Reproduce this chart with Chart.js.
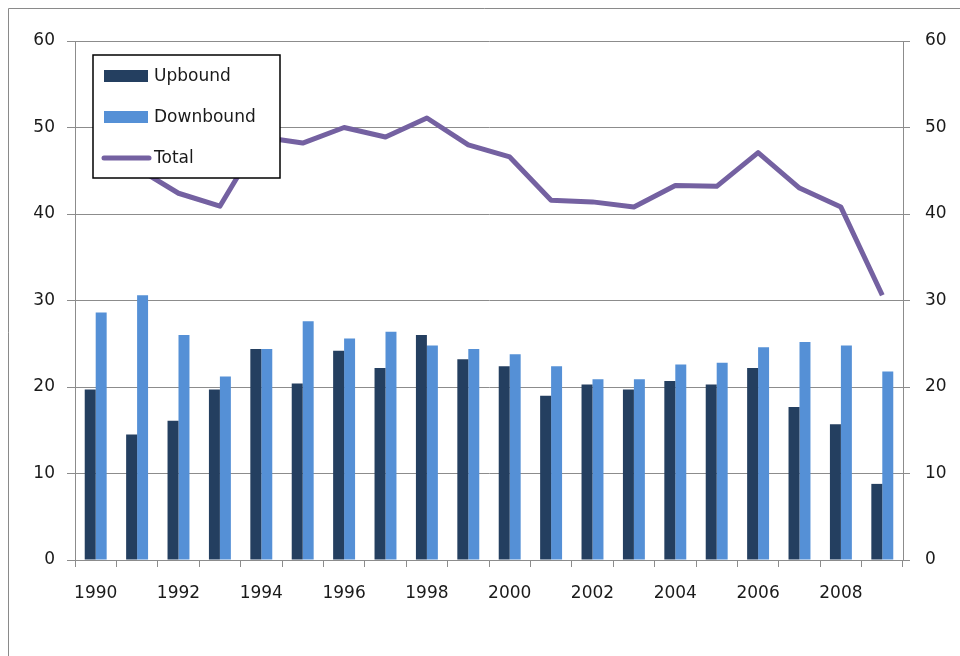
<!DOCTYPE html>
<html lang="en">
<head>
  <meta charset="UTF-8">
  <title>Upbound / Downbound / Total</title>
  <script src="https://cdn.jsdelivr.net/npm/chart.js@4.4.1/dist/chart.umd.min.js"></script>
  <style>
    html, body { margin: 0; padding: 0; background: #fff; }
    #wrap { width: 960px; height: 656px; position: relative; }
  </style>
</head>
<body>
  <div id="wrap">
    <canvas id="chart" width="960" height="656"></canvas>
  </div>

  <script>
    // data
    const years = ['1990', '1991', '1992', '1993', '1994', '1995', '1996', '1997', '1998', '1999',
                   '2000', '2001', '2002', '2003', '2004', '2005', '2006', '2007', '2008', '2009'];
    const upbound   = [19.7, 14.5, 16.1, 19.7, 24.4, 20.4, 24.2, 22.2, 26.0, 23.2,
                       22.4, 19.0, 20.3, 19.7, 20.7, 20.3, 22.2, 17.7, 15.7, 8.8];
    const downbound = [28.6, 30.6, 26.0, 21.2, 24.4, 27.6, 25.6, 26.4, 24.8, 24.4,
                       23.8, 22.4, 20.9, 20.9, 22.6, 22.8, 24.6, 25.2, 24.8, 21.8];
    const total     = [48.3, 45.3, 42.4, 40.9, 48.9, 48.2, 50.0, 48.9, 51.1, 48.0,
                       46.6, 41.6, 41.4, 40.8, 43.3, 43.2, 47.1, 43.0, 40.8, 30.6];
    const yTicks = [0, 10, 20, 30, 40, 50, 60];

    const FONT = 'DejaVu Sans, Verdana, sans-serif';
    const GRID = '#8c8c8c';

    // grey frame on the top and left edges
    const framePlugin = {
      id: 'frame',
      beforeDraw(chart) {
        const ctx = chart.ctx;
        ctx.save();
        ctx.fillStyle = '#fff';
        ctx.fillRect(0, 0, chart.width, chart.height);
        ctx.strokeStyle = '#8a8a8a';
        ctx.lineWidth = 1;
        ctx.beginPath();
        ctx.moveTo(8.5, chart.height);
        ctx.lineTo(8.5, 8.5);
        ctx.lineTo(chart.width, 8.5);
        ctx.stroke();
        ctx.restore();
      }
    };

    // boxed legend drawn inside the plot, on top of the line
    const boxLegend = {
      id: 'boxLegend',
      afterDatasetsDraw(chart) {
        const ctx = chart.ctx;
        const area = chart.chartArea;
        const x = area.left + 18, y = area.top + 14;
        const w = 187, h = 123;
        ctx.save();
        ctx.fillStyle = '#fff';
        ctx.fillRect(x, y, w, h);
        ctx.strokeStyle = '#000';
        ctx.lineWidth = 1.5;
        ctx.strokeRect(x, y, w, h);

        ctx.font = '17px ' + FONT;
        ctx.textBaseline = 'middle';
        ctx.textAlign = 'left';
        chart.data.datasets.forEach((ds, i) => {
          const cy = y + 21 + i * 41;
          if (ds.type === 'line') {
            ctx.strokeStyle = ds.borderColor;
            ctx.lineWidth = 5;
            ctx.lineCap = 'round';
            ctx.beginPath();
            ctx.moveTo(x + 11, cy);
            ctx.lineTo(x + 56, cy);
            ctx.stroke();
          } else {
            ctx.fillStyle = ds.backgroundColor;
            ctx.fillRect(x + 11, cy - 6, 44, 12);
          }
          ctx.fillStyle = '#1a1a1a';
          ctx.fillText(ds.label, x + 61, cy + 1);
        });
        ctx.restore();
      }
    };

    const ctx = document.getElementById('chart').getContext('2d');
    new Chart(ctx, {
      data: {
        labels: years,
        datasets: [
          {
            type: 'bar',
            label: 'Upbound',
            data: upbound,
            backgroundColor: '#243f60',
            yAxisID: 'y',
            order: 2,
            barPercentage: 1.0,
            categoryPercentage: 0.53
          },
          {
            type: 'bar',
            label: 'Downbound',
            data: downbound,
            backgroundColor: '#5590d6',
            yAxisID: 'y',
            order: 2,
            barPercentage: 1.0,
            categoryPercentage: 0.53
          },
          {
            type: 'line',
            label: 'Total',
            data: total,
            borderColor: '#7461a1',
            backgroundColor: '#7461a1',
            borderWidth: 5,
            pointRadius: 0,
            tension: 0,
            borderJoinStyle: 'round',
            yAxisID: 'y2',
            order: 0
          }
        ]
      },
      options: {
        responsive: false,
        animation: false,
        events: [],
        layout: { padding: { top: 41, left: 0, right: 0, bottom: 0 } },
        plugins: {
          legend: { display: false },
          tooltip: { enabled: false }
        },
        scales: {
          x: {
            offset: true,
            grid: {
              offset: true,
              drawOnChartArea: false,
              drawTicks: true,
              tickLength: 7,
              color: GRID
            },
            border: { color: GRID },
            ticks: {
              autoSkip: false,
              maxRotation: 0,
              padding: 16,
              color: '#1a1a1a',
              font: { family: FONT, size: 17 },
              callback: function (v, i) { return i % 2 === 0 ? this.getLabelForValue(v) : ''; }
            },
            afterFit(scale) { scale.height = 96; }
          },
          y: {
            position: 'left',
            min: 0,
            max: 60,
            afterBuildTicks(scale) { scale.ticks = yTicks.map(v => ({ value: v })); },
            grid: { color: GRID, tickLength: 8 },
            border: { color: GRID },
            ticks: {
              padding: 12,
              color: '#1a1a1a',
              font: { family: FONT, size: 17 }
            },
            afterFit(scale) { scale.width = 75; }
          },
          y2: {
            position: 'right',
            min: 0,
            max: 60,
            afterBuildTicks(scale) { scale.ticks = yTicks.map(v => ({ value: v })); },
            grid: { drawOnChartArea: false, color: GRID, tickLength: 7 },
            border: { color: GRID },
            ticks: {
              padding: 15,
              color: '#1a1a1a',
              font: { family: FONT, size: 17 }
            },
            afterFit(scale) { scale.width = 57; }
          }
        }
      },
      plugins: [framePlugin, boxLegend]
    });
  </script>
</body>
</html>
